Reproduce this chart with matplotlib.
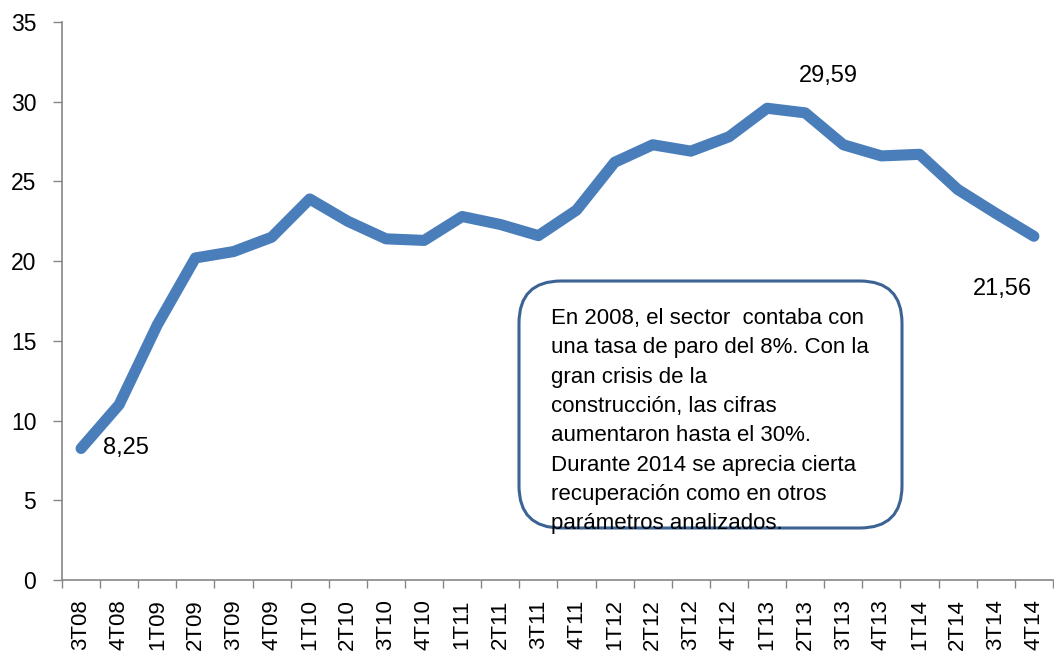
import matplotlib
matplotlib.use("Agg")
import matplotlib.pyplot as plt
from matplotlib.patches import FancyBboxPatch
import numpy as np

categories = ["3T08", "4T08", "1T09", "2T09", "3T09", "4T09", "1T10", "2T10", "3T10", "4T10",
              "1T11", "2T11", "3T11", "4T11", "1T12", "2T12", "3T12", "4T12",
              "1T13", "2T13", "3T13", "4T13", "1T14", "2T14", "3T14", "4T14"]
values = [8.25, 11.0, 16.0, 20.2, 20.6, 21.5, 23.9, 22.5, 21.4, 21.3,
          22.8, 22.3, 21.6, 23.2, 26.2, 27.3, 26.9, 27.8,
          29.59, 29.3, 27.3, 26.6, 26.7, 24.5, 23.0, 21.56]
y_ticks = [0, 5, 10, 15, 20, 25, 30, 35]
note = ("En 2008, el sector  contaba con\nuna tasa de paro del 8%. Con la\ngran crisis de la\n"
        "construcción, las cifras\naumentaron hasta el 30%.\nDurante 2014 se aprecia cierta\n"
        "recuperación como en otros\nparámetros analizados.")

plt.rcParams['font.family'] = ["Liberation Sans", "DejaVu Sans"]

fig = plt.figure(figsize=(10.54, 6.56), dpi=100)
ax = fig.add_axes([62/1054, 76/656, 1 - 62/1054 - 0.001, (580-22)/656])

x = np.arange(len(categories))
ax.plot(x, values, color="#4A7EBB", linewidth=8, solid_joinstyle="round",
        solid_capstyle="round", zorder=3)

ax.set_xlim(-0.5, len(categories) - 0.5)
ax.set_ylim(0, 35)
ax.set_yticks(y_ticks)
ax.set_yticklabels([str(v) for v in y_ticks], fontsize=16.5)
ax.set_xticks(x)
ax.set_xticklabels(categories, rotation=90, fontsize=16)
ax.set_xticks(np.arange(-0.5, len(categories), 1), minor=True)
ax.tick_params(axis="x", which="major", length=0, pad=14)
ax.tick_params(axis="x", which="minor", length=6, color="#868686", width=1, direction="out")
ax.tick_params(axis="y", which="major", length=6.5, color="#868686", width=1, direction="out", pad=12)

for s in ["top", "right"]:
    ax.spines[s].set_visible(False)
for s in ["left", "bottom"]:
    ax.spines[s].set_color("#868686")
    ax.spines[s].set_linewidth(1.2)

# data labels
ax.annotate("8,25", xy=(x[0], values[0]), xytext=(16, 0), textcoords="offset points",
            fontsize=17, ha="left", va="center")
ax.annotate("29,59", xy=(x[18], values[18]), xytext=(44, 23), textcoords="offset points",
            fontsize=17, ha="center", va="center")
ax.annotate("21,56", xy=(x[25], values[25]), xytext=(-23, -38), textcoords="offset points",
            fontsize=17, ha="center", va="center")

# text box
box = FancyBboxPatch((519/1054, (656-528)/656), (902-519)/1054, (528-281)/656,
                     boxstyle="round,pad=0,rounding_size=0.04", transform=fig.transFigure,
                     facecolor="white", edgecolor="#3C6394", linewidth=2.2, zorder=5,
                     mutation_aspect=1054/656)
fig.patches.append(box)
fig.text(551/1054, (656-308)/656, note, fontsize=16, ha="left", va="top",
         linespacing=1.52, zorder=6)

fig.savefig("out.png", dpi=100)
